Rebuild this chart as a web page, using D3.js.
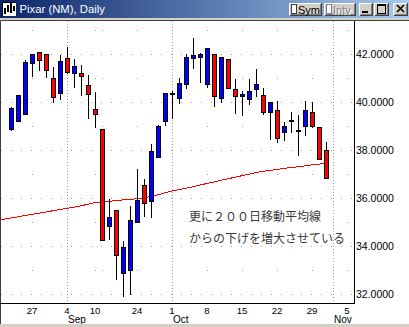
<!DOCTYPE html>
<html lang="ja">
<head>
<meta charset="UTF-8">
<title>Pixar (NM), Daily</title>
<script src="https://d3js.org/d3.v7.min.js"></script>
<style>
  body { margin: 0; background: #d4d0c8; }
  svg { display: block; font-family: 'Liberation Sans', Arial, sans-serif; }
  .ylbl { font-size: 10.5px; fill: #000; }
  .xlbl { font-size: 9.6px; fill: #000; }
  .mlbl { font-size: 10px; fill: #000; }
  .note { font-family: 'Noto Sans CJK JP', sans-serif; font-size: 12px; fill: #3a3a3a; }
</style>
</head>
<body>
<svg width="409" height="327"></svg>
<script>
// trading days on the axis (2001), including two days before the first candle and the days up to Nov 5
var days = ["2001-08-20","2001-08-21","2001-08-22","2001-08-23","2001-08-24","2001-08-27","2001-08-28","2001-08-29","2001-08-30","2001-08-31",
  "2001-09-04","2001-09-05","2001-09-06","2001-09-07","2001-09-10","2001-09-17","2001-09-18","2001-09-19","2001-09-20","2001-09-21",
  "2001-09-24","2001-09-25","2001-09-26","2001-09-27","2001-09-28","2001-10-01","2001-10-02","2001-10-03","2001-10-04","2001-10-05",
  "2001-10-08","2001-10-09","2001-10-10","2001-10-11","2001-10-12","2001-10-15","2001-10-16","2001-10-17","2001-10-18","2001-10-19",
  "2001-10-22","2001-10-23","2001-10-24","2001-10-25","2001-10-26","2001-10-29","2001-10-30","2001-10-31","2001-11-01","2001-11-02","2001-11-05"];

var candleDays = days.slice(2, 48);   // Aug 22 .. Oct 31
var open  = [38.87,39.22,39.49,41.61,42.07,41.99,40.99,40.36,41.82,41.22,41.20,40.70,39.70,38.88,34.83,35.50,32.87,33.01,35.02,36.54,
  35.88,37.70,39.21,40.39,40.16,40.75,41.82,41.86,40.74,41.99,40.18,41.78,40.53,40.24,40.14,40.56,40.29,39.60,39.66,38.74,
  39.25,38.84,38.99,39.57,38.95,37.99];
var high  = [39.84,40.28,41.79,41.99,42.07,41.99,41.50,42.00,42.33,41.82,41.58,41.17,40.46,38.88,35.99,35.50,34.26,35.72,37.24,36.83,
  38.28,39.07,40.36,40.50,41.03,42.05,42.72,42.07,42.24,41.99,41.86,41.85,40.99,40.50,41.01,41.40,40.61,40.06,40.09,39.21,
  39.63,39.50,40.09,40.04,39.00,38.39];
var low   = [38.85,39.22,39.49,41.10,41.33,41.06,40.00,40.13,41.20,40.64,40.31,39.35,38.97,34.26,34.29,32.65,31.94,32.00,35.00,35.26,
  35.23,37.70,39.05,39.35,39.97,40.57,41.40,40.85,40.61,39.85,39.99,40.57,39.53,39.46,39.91,40.25,39.50,38.46,38.35,38.42,
  38.77,37.80,38.63,38.97,37.62,36.83];
var close = [39.74,40.28,41.65,41.99,41.74,41.32,40.20,41.70,41.26,41.49,41.07,40.32,39.49,34.26,35.22,33.62,33.96,35.09,35.92,35.79,
  37.96,39.02,40.36,40.39,40.78,41.89,41.95,41.99,42.24,40.26,41.86,40.57,40.26,40.34,40.46,40.75,39.57,39.99,38.49,38.99,
  39.25,38.84,39.66,39.02,37.62,36.83];

// 200-day moving average, Aug 20 .. Oct 31
var maDays = days.slice(0, 48);
var ma200 = [35.08,35.13,35.18,35.23,35.28,35.33,35.38,35.43,35.48,35.53,35.58,35.63,35.69,35.75,35.82,35.85,35.87,35.90,35.93,35.95,
  35.98,36.02,36.08,36.15,36.23,36.30,36.36,36.42,36.48,36.55,36.62,36.68,36.75,36.81,36.88,36.94,37.00,37.07,37.12,37.16,
  37.20,37.24,37.28,37.31,37.35,37.39,37.42,37.46];

var dayTickDays = ["2001-08-27","2001-09-04","2001-09-10","2001-09-24","2001-10-01","2001-10-08","2001-10-15","2001-10-22","2001-10-29","2001-11-05"];
var dayTickLabels = ["27","4","10","24","1","8","15","22","29","5"];
var monthDays = ["2001-09-04","2001-10-01","2001-11-01"];
var monthLabels = ["Sep","Oct","Nov"];
var priceTicks = [32, 34, 36, 38, 40, 42];
var priceGrid = [32, 33, 34, 35, 36, 37, 38, 39, 40, 41, 42, 43];

var title = "Pixar (NM), Daily";
var noteLines = ["更に２００日移動平均線", "からの下げを増大させている"];

var W = 409, H = 327;
var plot = { left: 1, top: 21, right: 354.5, bottom: 303.5 };

var svg = d3.select("svg");

// window background
svg.append("rect").attr("width", W).attr("height", H).attr("fill", "#d4d0c8");
svg.append("rect").attr("x", 1).attr("y", 21).attr("width", W - 1).attr("height", 303).attr("fill", "#fff");
svg.append("path").attr("d", "M0.5,327V20.5H409").attr("fill", "none").attr("stroke", "#404040");

// title bar
var defs = svg.append("defs");
var grad = defs.append("linearGradient").attr("id", "tb");
grad.append("stop").attr("offset", "0%").attr("stop-color", "#0a246a");
grad.append("stop").attr("offset", "100%").attr("stop-color", "#a6caf0");
svg.append("rect").attr("width", W).attr("height", 18).attr("fill", "url(#tb)");

// title icon
var ic = svg.append("g").attr("shape-rendering", "crispEdges");
ic.append("rect").attr("x", 2).attr("y", 2).attr("width", 14).attr("height", 14).attr("fill", "#fff");
[[4, 8, 14], [7, 5, 12], [10, 3, 13], [13, 6, 11]].forEach(function(b) {
  ic.append("rect").attr("x", b[0]).attr("y", b[1]).attr("width", 2).attr("height", b[2] - b[1]).attr("fill", "#000");
});
ic.append("path").attr("d", "M2.5,16V2.5H16").attr("fill", "none").attr("stroke", "#000");

svg.append("text").attr("x", 19.5).attr("y", 12.5)
  .attr("font-size", "11.3px").attr("fill", "#fff").text(title);

function button(x, y, w, h) {
  var g = svg.append("g").attr("shape-rendering", "crispEdges");
  g.append("rect").attr("x", x).attr("y", y).attr("width", w).attr("height", h).attr("fill", "#d4d0c8");
  g.append("path").attr("d", "M" + (x + 0.5) + "," + (y + h - 1) + "V" + (y + 0.5) + "H" + (x + w - 1))
    .attr("fill", "none").attr("stroke", "#fff");
  g.append("path").attr("d", "M" + (x + 0.5) + "," + (y + h - 0.5) + "H" + (x + w - 0.5) + "V" + y)
    .attr("fill", "none").attr("stroke", "#404040");
  g.append("path").attr("d", "M" + (x + 1.5) + "," + (y + h - 1.5) + "H" + (x + w - 1.5) + "V" + (y + 1))
    .attr("fill", "none").attr("stroke", "#808080");
  return g;
}

var bSym = button(289, 3, 33, 13);
bSym.append("rect").attr("x", 291.5).attr("y", 4.5).attr("width", 5).attr("height", 9).attr("fill", "#fff").attr("stroke", "#404040");
svg.append("text").attr("x", 298).attr("y", 13.5).attr("font-size", "11px").attr("fill", "#000").text("Sym");
var bIntv = button(324, 3, 32, 13);
bIntv.append("rect").attr("x", 326.5).attr("y", 4.5).attr("width", 5).attr("height", 9).attr("fill", "#fff").attr("stroke", "#808080");
svg.append("text").attr("x", 334).attr("y", 14.5).attr("font-size", "11px").attr("fill", "#fff").text("Intv");
svg.append("text").attr("x", 333).attr("y", 13.5).attr("font-size", "11px").attr("fill", "#808080").text("Intv");

var bMin = button(359, 3, 14, 13);
bMin.append("rect").attr("x", 362).attr("y", 11).attr("width", 6).attr("height", 2).attr("fill", "#000");
var bMax = button(374, 3, 15, 13);
bMax.append("rect").attr("x", 377.5).attr("y", 4.5).attr("width", 8).attr("height", 9).attr("fill", "none").attr("stroke", "#000");
bMax.append("rect").attr("x", 377).attr("y", 5).attr("width", 9).attr("height", 1).attr("fill", "#000");
var bClose = button(393, 3, 15, 13);
bClose.append("path").attr("d", "M397,5L404,12M404,5L397,12").attr("stroke", "#000").attr("stroke-width", 1.6)
  .attr("shape-rendering", "auto");

// scales
var x = d3.scalePoint().domain(days).range([-2.5, 347.5]);
var y = d3.scaleLinear().domain([32, 42]).range([294.3, 54]);
function py(v) { return Math.round(y(v)) + 0.5; }

defs.append("clipPath").attr("id", "plotClip").append("rect")
  .attr("x", plot.left).attr("y", plot.top).attr("width", plot.right - plot.left).attr("height", plot.bottom - plot.top);

var grid = svg.append("g").attr("shape-rendering", "crispEdges").attr("clip-path", "url(#plotClip)");

// week starts (for the dots on the odd price lines)
var parse = d3.timeParse("%Y-%m-%d");
var weekStarts = days.filter(function(d, i) {
  return i > 0 && +d3.timeMonday.floor(parse(d)) !== +d3.timeMonday.floor(parse(days[i - 1]));
});

priceGrid.forEach(function(v) {
  if (v % 2 === 0) {
    grid.append("line").attr("x1", plot.left).attr("x2", plot.right - 2)
      .attr("y1", py(v)).attr("y2", py(v))
      .attr("stroke", "#a0a0a0").attr("stroke-dasharray", "1,9");
  } else {
    grid.selectAll(null).data(weekStarts).enter().append("rect")
      .attr("x", function(d) { return x(d) - 0.5; }).attr("y", py(v) - 0.5)
      .attr("width", 1).attr("height", 1).attr("fill", "#a0a0a0");
  }
});

grid.selectAll(".mline").data(monthDays).enter().append("line")
  .attr("x1", function(d) { return x(d); }).attr("x2", function(d) { return x(d); })
  .attr("y1", plot.top).attr("y2", plot.bottom)
  .attr("stroke", "#a0a0a0").attr("stroke-dasharray", "1,2");

// moving average
var maLine = d3.line()
  .x(function(d, i) { return x(maDays[i]); })
  .y(function(d) { return y(d); });
svg.append("path").datum(ma200).attr("clip-path", "url(#plotClip)")
  .attr("d", maLine).attr("fill", "none").attr("stroke", "#ff0000").attr("stroke-width", 1)
  .attr("shape-rendering", "crispEdges");

// candles
var candles = candleDays.map(function(d, i) {
  return { day: d, o: open[i], h: high[i], l: low[i], c: close[i] };
});
var cg = svg.append("g").attr("shape-rendering", "crispEdges").attr("clip-path", "url(#plotClip)");
var cs = cg.selectAll(".candle").data(candles).enter().append("g");
cs.append("line")
  .attr("x1", function(d) { return x(d.day); }).attr("x2", function(d) { return x(d.day); })
  .attr("y1", function(d) { return py(d.h); }).attr("y2", function(d) { return py(d.l); })
  .attr("stroke", "#000");
cs.append("rect")
  .attr("x", function(d) { return x(d.day) - 2; })
  .attr("y", function(d) { return py(Math.max(d.o, d.c)); })
  .attr("width", 4)
  .attr("height", function(d) { return Math.max(1, py(Math.min(d.o, d.c)) - py(Math.max(d.o, d.c))); })
  .attr("fill", function(d) {
    if (d.o === d.c) return "none";
    return d.c > d.o ? "#0000ff" : "#ff0000";
  })
  .attr("stroke", "#000");

// axes
svg.append("path").attr("d", "M" + plot.right + ",21V" + plot.bottom + "H0")
  .attr("fill", "none").attr("stroke", "#000").attr("shape-rendering", "crispEdges");

svg.selectAll(".ylbl").data(priceTicks).enter().append("text")
  .attr("class", "ylbl").attr("x", 356).attr("y", function(d) { return y(d) + 3.8; })
  .text(function(d) { return d.toFixed(4); });

svg.selectAll(".xlbl").data(dayTickDays).enter().append("text")
  .attr("class", "xlbl").attr("text-anchor", "middle")
  .attr("x", function(d) { return x(d) - 0.5; }).attr("y", 313.6)
  .text(function(d, i) { return dayTickLabels[i]; });

svg.selectAll(".mlbl").data(monthDays).enter().append("text")
  .attr("class", "mlbl").attr("x", function(d) { return x(d) + 0.5; }).attr("y", 322.6)
  .text(function(d, i) { return monthLabels[i]; });

// annotation
svg.selectAll(".note").data(noteLines).enter().append("text")
  .attr("class", "note").attr("x", 189).attr("y", function(d, i) { return 221 + i * 21.5; })
  .text(function(d) { return d; });

// bottom frame
svg.append("rect").attr("x", 0).attr("y", 324).attr("width", W).attr("height", 3).attr("fill", "#d4d0c8");
</script>
</body>
</html>
